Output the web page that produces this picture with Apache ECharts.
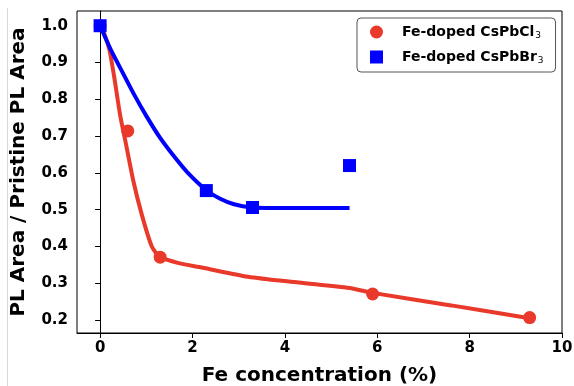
<!DOCTYPE html>
<html><head><meta charset="utf-8">
<script src="https://cdn.jsdelivr.net/npm/echarts@6/dist/echarts.min.js"></script>
<style>html,body{margin:0;padding:0;background:#fff}#c{width:574px;height:386px}</style>
</head><body><div id="c"></div>
<script>
// Measured points
const clX = [0, 0.6, 1.3, 5.9, 9.3];
const clY = [1.0, 0.714, 0.371, 0.271, 0.207];
const brX = [0, 2.3, 3.3, 5.4];
const brY = [1.0, 0.552, 0.506, 0.62];
// Fitted curves
const clFitX = [0, 0.1, 0.2, 0.3, 0.43, 0.55, 0.72, 0.9, 1.12, 1.3, 1.7, 2.2, 3.2, 4.3, 5.4, 5.9, 7.6, 9.3];
const clFitY = [1.0, 0.975, 0.935, 0.865, 0.76, 0.685, 0.578, 0.488, 0.40, 0.372, 0.355, 0.343, 0.318, 0.302, 0.287, 0.274, 0.24, 0.205];
const brFitX = [0, 0.25, 0.5, 0.75, 1.0, 1.3, 1.6, 1.9, 2.3, 2.6, 2.9, 3.3, 3.6, 5.4];
const brFitY = [1.0, 0.93, 0.87, 0.81, 0.755, 0.695, 0.645, 0.60, 0.553, 0.53, 0.515, 0.506, 0.505, 0.505];
const xTicks = [0, 2, 4, 6, 8, 10];
const yTicks = [0.2, 0.3, 0.4, 0.5, 0.6, 0.7, 0.8, 0.9, 1.0];
const names = ['Fe-doped CsPbCl', 'Fe-doped CsPbBr'];

const RED = '#E8392A', BLUE = '#0000FF';
const FONT = 'DejaVu Sans';
const zip = (a, b) => a.map((v, i) => [v, b[i]]);

const chart = echarts.init(document.getElementById('c'), null, {renderer: 'canvas'});
chart.setOption({
  animation: false,
  backgroundColor: '#fff',
  textStyle: {fontFamily: FONT},
  grid: {left: 77, right: 12, top: 11, bottom: 53, outerBoundsMode: 'none', containLabel: false, show: true, borderColor: '#000', borderWidth: 1, backgroundColor: 'transparent'},
  graphic: [{type: 'line', shape: {x1: 7.5, y1: 8, x2: 7.5, y2: 386}, style: {stroke: '#d8d8d8', lineWidth: 1}}],
  xAxis: {
    type: 'value', min: -0.5, max: 10,
    name: 'Fe concentration (%)', nameLocation: 'middle', nameGap: 33,
    nameTextStyle: {fontFamily: FONT, fontWeight: 'bold', fontSize: 20, color: '#000'},
    axisLine: {show: true, lineStyle: {color: '#000', width: 1}},
    axisTick: {show: true, customValues: xTicks, length: 5, lineStyle: {color: '#000'}},
    axisLabel: {customValues: xTicks, fontFamily: FONT, fontWeight: 'bold', fontSize: 15, color: '#000', margin: 8},
    splitLine: {show: false}
  },
  yAxis: {
    type: 'value', min: 0.165, max: 1.04,
    name: 'PL Area / Pristine PL Area', nameLocation: 'middle', nameGap: 48, nameRotate: 90,
    nameTextStyle: {fontFamily: FONT, fontWeight: 'bold', fontSize: 20, color: '#000'},
    axisLine: {show: true, lineStyle: {color: '#000', width: 1}},
    axisTick: {show: true, customValues: yTicks, length: 5, lineStyle: {color: '#000'}},
    axisLabel: {customValues: yTicks, formatter: v => v.toFixed(1), fontFamily: FONT, fontWeight: 'bold', fontSize: 15, color: '#000', margin: 9},
    splitLine: {show: false}
  },
  legend: {
    left: 357, top: 18, orient: 'vertical',
    data: [{name: names[0], icon: 'circle'}, {name: names[1], icon: 'rect'}],
    itemWidth: 13, itemHeight: 13, itemGap: 10,
    padding: [7, 12, 7, 13],
    borderColor: '#555', borderWidth: 1, borderRadius: 4, backgroundColor: '#fff',
    formatter: n => '{b|' + n + '}{s|3}',
    itemStyle: {opacity: 1},
    textStyle: {
      fontFamily: FONT, color: '#000',
      rich: {
        b: {fontFamily: FONT, fontWeight: 'bold', fontSize: 14, color: '#000', padding: [0, 0, 0, 14]},
        s: {fontFamily: FONT, fontWeight: 'normal', fontSize: 9, color: '#000', padding: [7, 0, 0, 1]}
      }
    }
  },
  series: [
    {type: 'line', name: 'clFit', data: zip(clFitX, clFitY), smooth: 0.25, symbol: 'none', lineStyle: {color: RED, width: 4}, z: 2},
    {type: 'line', name: 'brFit', data: zip(brFitX, brFitY), smooth: 0.25, symbol: 'none', lineStyle: {color: BLUE, width: 4}, z: 2},
    {type: 'scatter', name: names[0], data: zip(clX, clY), symbol: 'circle', symbolSize: 13, itemStyle: {color: RED, opacity: 1}, z: 3},
    {type: 'scatter', name: names[1], data: zip(brX, brY), symbol: 'rect', symbolSize: 13, itemStyle: {color: BLUE, opacity: 1}, z: 4}
  ]
});
</script></body></html>
